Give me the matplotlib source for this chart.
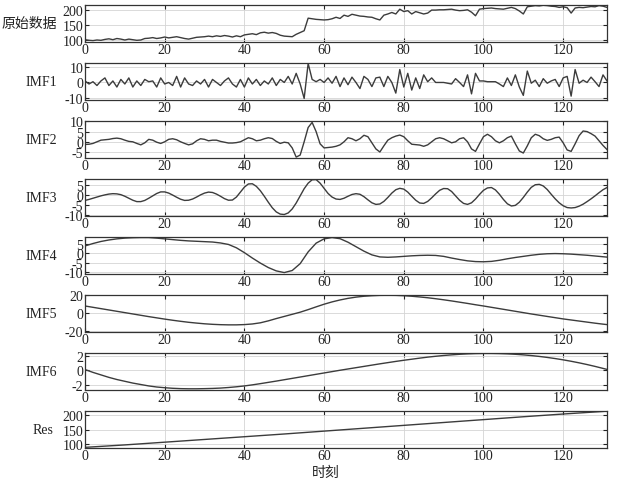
import matplotlib
matplotlib.use('Agg')
import matplotlib.pyplot as plt

plt.rcParams['font.family'] = ['Liberation Serif', 'Noto Sans CJK SC']
plt.rcParams['axes.unicode_minus'] = False

t = list(range(132))
t_coarse = list(range(0, 131, 2)) + [131]
t_res = list(range(0, 131, 10)) + [131]

raw = [100, 98, 97, 99, 98, 101, 103, 100, 104, 102,
       99, 102, 100, 98, 99, 104, 105, 107, 104, 106,
       109, 106, 108, 110, 107, 104, 102, 105, 108, 109,
       110, 112, 110, 113, 111, 114, 112, 109, 113, 110,
       116, 118, 120, 117, 123, 125, 122, 124, 121, 115,
       112, 111, 110, 118, 124, 130, 172, 170, 168, 167,
       166, 167, 170, 175, 171, 182, 178, 185, 182, 179,
       178, 176, 175, 170, 166, 182, 186, 191, 186, 202,
       194, 197, 186, 194, 190, 186, 189, 199, 199, 200,
       200, 201, 202, 199, 197, 198, 200, 192, 180, 202,
       204, 205, 206, 204, 203, 202, 205, 208, 204, 196,
       186, 210, 212, 214, 213, 215, 214, 212, 211, 208,
       210, 207, 189, 206, 208, 207, 209, 211, 210, 214,
       212, 208]

imf1 = [1, -1, 0.5, -2, 1, 3, -2, 1, -3, 2,
        -1, 3, -3, 1, -2, 2, 0.5, 1, -3, 3,
        -1, 0, -2, 4, -3, 3, -1, -2, 1, -1,
        2, -3, 2, 0, -2, 1, 3, -1, -3, 2,
        -3, 3, -1, 2, -2, 1, -1, 3, -2, 2,
        0, 4, -1, 6, -1, -10.5, 12.5, 2, 0.5, 2,
        0, 3, -0.5, 4, -2.7, 3, -1.5, 3.5, 0, -4,
        4, 2, -2.7, 3, 3.5, -2.7, 4, 0, -7, 8.5,
        -3, 6, -5, 3, -4, 5, 0.5, 3, 0, 0,
        0, -0.5, -1, 2.5, 0, -2.7, 5, -7.5, 6, 1,
        1, 0.5, 0.5, 0.5, -1, -2.7, 3, -2, 5, -3,
        -8.5, 7.5, -0.5, 1.5, -2.7, 2.5, -0.5, 1, 2, -2.7,
        3, 4, -9, 8.5, -0.5, 1.5, 0, 3.5, 0.5, -2.7,
        5, 1]

imf2 = [-1.3, -1.2, -0.8, 0, 0.8, 1, 1.2, 1.6, 1.8, 1.5,
        0.8, 0.2, 0, -0.8, -1.5, -0.5, 1.2, 0.8, -0.2, -0.8,
        0, 1.2, 1.5, 1, 0, -0.8, -1.5, -1, 0.5, 1.5,
        1.2, 0.5, 0.8, 0.8, 0.2, -0.2, -0.6, -0.6, -0.4, 0,
        1, 2, 1.5, 0.5, 0.8, 1.5, 2, 1.6, 0.2, -0.8,
        -0.2, -0.5, -3, -7.5, -6.5, 0, 7, 9.5, 5, -1,
        -3, -2.8, -2.6, -2.2, -1.5, 0, 2, 1.5, 0.5, 1.5,
        3.2, 2.5, -0.5, -3.5, -5, -2, 0.8, 2, 2.8, 3.3,
        2.5, 0.5, -1.2, -1.4, -1.6, -2.2, -1.5, 0, 1.5, 2,
        1.5, 0.5, -0.5, 0, 1.5, 2, 0, -3.5, -4.7, -1,
        2.5, 3.7, 2.5, 0.5, -0.5, 0.5, 2, 2.8, -1, -4.5,
        -5.5, -2, 2, 3.7, 3, 1.5, 0.7, 1.2, 2, 2.3,
        -0.5, -4, -4.7, -1, 3, 5.3, 5, 4, 2.8, 0.5,
        -1.8, -3.8]

imf3 = [-2.7, -2.2, -1.6, -1, -0.4, 0.1, 0.5, 0.7, 0.6, 0.2,
        -0.6, -1.6, -2.6, -3.3, -3.3, -2.7, -1.6, -0.4, 0.8, 1.6,
        1.6, 1, 0, -1.1, -2.1, -2.7, -2.6, -2, -1, 0.1,
        1, 1.5, 1.3, 0.5, -0.6, -1.8, -2.6, -2.5, -1, 1.5,
        4, 5.6, 5.7, 4.4, 2.2, -0.6, -3.6, -6.4, -8.5, -9.6,
        -9.8, -9, -7, -4, -0.4, 3.2, 6, 7.7, 7.8, 6,
        3.4, 0.8, -1, -2, -2.2, -1.6, -0.6, 0.3, 0.7, 0.4,
        -0.8, -2.4, -3.9, -4.7, -4.5, -3.2, -1.2, 1, 2.7, 3.4,
        3, 1.5, -0.6, -2.6, -4, -4.2, -3.2, -1.4, 0.6, 2.4,
        3.3, 3.2, 1.8, -0.4, -2.6, -4.2, -4.7, -3.9, -2, 0.3,
        2.4, 3.6, 3.8, 2.6, 0.4, -2.2, -4.4, -5.5, -5.2, -3.6,
        -1.2, 1.5, 3.9, 5.2, 5.4, 4.6, 2.8, 0.4, -1.9, -3.9,
        -5.4, -6.3, -6.5, -6.3, -5.6, -4.6, -3.3, -1.9, -0.4, 1.2,
        2.7, 3.8]

imf4 = [4.0, 5.3, 6.4, 7.2, 7.8, 8.2, 8.4, 8.5, 8.5, 8.2,
        7.8, 7.4, 7.0, 6.7, 6.5, 6.3, 6.1, 5.6, 4.8, 3.0,
        0.4, -2.5, -5.2, -7.6, -9.4, -10.3, -9.2, -5.5, 0.8, 5.5,
        7.8, 8.5, 7.9, 6.0, 3.6, 1.2, -0.8, -1.9, -2.1, -1.9,
        -1.6, -1.3, -1.1, -1.0, -1.1, -1.6, -2.5, -3.3, -4.0, -4.4,
        -4.5, -4.3, -3.7, -2.9, -2.2, -1.6, -1.0, -0.5, -0.2, -0.1,
        -0.2, -0.4, -0.7, -1.0, -1.4, -1.8, -2.0]

imf5 = [8.0, 6.5, 5.0, 3.5, 2.0, 0.5, -1.0, -2.5, -4.0, -5.4,
        -6.8, -8.1, -9.3, -10.4, -11.3, -12.1, -12.7, -13.1, -13.3, -13.3,
        -13.0, -12.3, -11.0, -8.8, -6.2, -3.8, -1.4, 1.0, 3.9, 7.0,
        10.0, 12.6, 14.8, 16.6, 18.0, 19.0, 19.6, 20.0, 20.1, 20.0,
        19.6, 19.0, 18.2, 17.3, 16.2, 15.0, 13.7, 12.3, 10.9, 9.4,
        8.0, 6.5, 5.0, 3.5, 2.0, 0.5, -1.0, -2.4, -3.8, -5.2,
        -6.6, -7.8, -9.0, -10.2, -11.4, -12.5, -13.0]

imf6 = [0.1, -0.3, -0.65, -1.0, -1.3, -1.55, -1.8, -2.0, -2.2, -2.35,
        -2.45, -2.53, -2.58, -2.6, -2.6, -2.58, -2.55, -2.5, -2.42, -2.32,
        -2.2, -2.05, -1.88, -1.7, -1.52, -1.33, -1.14, -0.95, -0.76, -0.57,
        -0.38, -0.19, 0.0, 0.18, 0.36, 0.54, 0.72, 0.9, 1.07, 1.24,
        1.4, 1.55, 1.7, 1.84, 1.96, 2.07, 2.16, 2.24, 2.3, 2.34,
        2.36, 2.36, 2.34, 2.3, 2.24, 2.16, 2.06, 1.94, 1.8, 1.64,
        1.46, 1.26, 1.04, 0.8, 0.54, 0.26, 0.12]

res = [88.5, 97, 106.5, 116, 125.5, 135, 145, 155, 165, 175, 185, 195, 204.5, 213.5, 214.5]

labels = ['原始数据', 'IMF1', 'IMF2', 'IMF3', 'IMF4', 'IMF5', 'IMF6', 'Res']
xs = [t, t, t, t, t_coarse, t_coarse, t_coarse, t_res]
ys = [raw, imf1, imf2, imf3, imf4, imf5, imf6, res]
yticks = [[100, 150, 200], [-10, 0, 10], [-5, 0, 5, 10], [-10, -5, 0, 5],
          [-10, -5, 0, 5], [-20, 0, 20], [-2, 0, 2], [100, 150, 200]]
ylims = [(94, 216), (-11.2, 12.8), (-7.7, 10.2), (-10.3, 8.1),
         (-10.8, 8.8), (-20.8, 20.4), (-2.7, 2.42), (88, 215)]
xticks = [0, 20, 40, 60, 80, 100, 120]
label_right = [57, 57, 57, 57, 57, 57, 57, 53]

W, H = 619, 485
fig = plt.figure(figsize=(W / 100, H / 100), dpi=100)
left_px, right_px = 85, 607
height_px = 36.5
fs = 10
line_col = '#3c3c3c'

for i in range(8):
    top_px = 6 + 58 * i
    ax = fig.add_axes([left_px / W, 1 - (top_px + height_px) / H,
                       (right_px - left_px) / W, height_px / H])
    ax.plot(xs[i], ys[i], color=line_col, lw=1.0)
    ax.set_xlim(0, 131)
    ax.set_ylim(*ylims[i])
    ax.set_xticks(xticks)
    ax.set_yticks(yticks[i])
    ax.grid(True, color='#d4d4d4', lw=0.6)
    ax.set_axisbelow(True)
    ax.tick_params(direction='in', length=3, width=0.8, top=True, right=True,
                   labelsize=fs, pad=1.2, colors='#222222')
    for sp in ax.spines.values():
        sp.set_color('#333333')
        sp.set_linewidth(0.9)
    fig.text(label_right[i] / W, 1 - (top_px + height_px / 2) / H, labels[i],
             ha='right', va='center', fontsize=fs, color='#222222')

fig.text(326 / W, 1 - 473 / H, '时刻', ha='center', va='center',
         fontsize=fs, color='#222222')

fig.savefig('out.png', dpi=100)
